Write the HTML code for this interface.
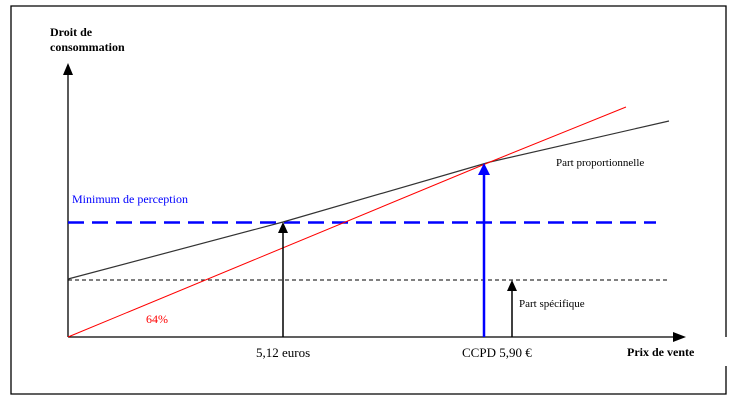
<!DOCTYPE html>
<html><head><meta charset="utf-8"><style>
body{margin:0;background:#fff;}
svg{display:block;font-family:"Liberation Serif",serif;}
</style></head><body>
<svg width="747" height="409" viewBox="0 0 747 409">
<rect x="0" y="0" width="747" height="409" fill="#fff"/>
<polyline points="726,337 726,6 11,6 11,394 726,394 726,366" fill="none" stroke="#000" stroke-width="1.3"/>
<text x="50" y="36" font-size="12" font-weight="bold">Droit de</text>
<text x="50" y="51" font-size="12" font-weight="bold">consommation</text>
<line x1="68" y1="337" x2="68" y2="74" stroke="#000" stroke-width="1.3"/>
<polygon points="68,63 63,75 73,75" fill="#000"/>
<line x1="68" y1="337" x2="675" y2="337" stroke="#000" stroke-width="1.3"/>
<polygon points="686,337 673,332 673,342" fill="#000"/>
<line x1="68" y1="280" x2="668" y2="280" stroke="#000" stroke-width="1" stroke-dasharray="4,3"/>
<line x1="68" y1="222.5" x2="656" y2="222.5" stroke="#00f" stroke-width="2.5" stroke-dasharray="16,8"/>
<polyline points="68,279 283,222 490,162 669,121" fill="none" stroke="#333" stroke-width="1.2"/>
<polyline points="68,337 490,162 626,107" fill="none" stroke="#f00" stroke-width="1"/>
<line x1="283" y1="337" x2="283" y2="232" stroke="#000" stroke-width="1.5"/>
<polygon points="283,222 278,233 288,233" fill="#000"/>
<line x1="484" y1="337" x2="484" y2="173" stroke="#00f" stroke-width="2.5"/>
<polygon points="484,163 478,175 490,175" fill="#00f"/>
<line x1="512" y1="337" x2="512" y2="290" stroke="#000" stroke-width="1.5"/>
<polygon points="512,280 507,291 517,291" fill="#000"/>
<text x="72" y="203" font-size="12" fill="#00f">Minimum de perception</text>
<text x="556" y="166" font-size="11">Part proportionnelle</text>
<text x="519" y="307" font-size="11">Part spécifique</text>
<text x="146" y="323" font-size="12" fill="#f00">64%</text>
<text x="256" y="357" font-size="13">5,12 euros</text>
<text x="462" y="357" font-size="13">CCPD 5,90 €</text>
<text x="627" y="356" font-size="12" font-weight="bold">Prix de vente</text>
</svg>
</body></html>
